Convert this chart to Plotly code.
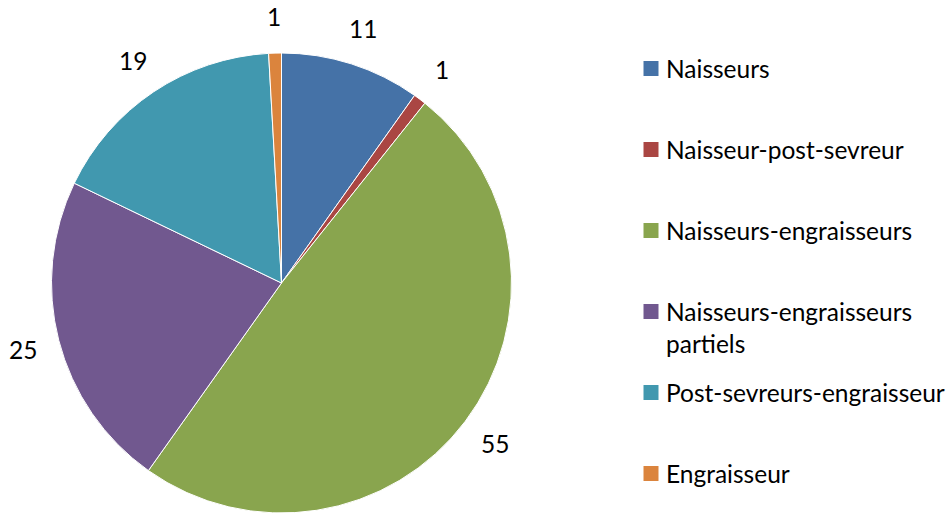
import math
import plotly.graph_objects as go

categories = ["Naisseurs", "Naisseur-post-sevreur", "Naisseurs-engraisseurs",
              "Naisseurs-engraisseurs<br>partiels", "Post-sevreurs-engraisseur", "Engraisseur"]
values = [11, 1, 55, 25, 19, 1]
colors = ["#4572A7", "#AA4643", "#89A54E", "#71588F", "#4198AF", "#DB843D"]

W, H = 949, 513
FONT = "Lato"
FS = 24.5

# pie geometry (layout)
cx, cy, r = 281.5, 283.0, 230.0
label_dist = 267.0

fig = go.Figure()
fig.add_trace(go.Pie(
    labels=categories, values=values, sort=False, direction="clockwise", rotation=0,
    marker=dict(colors=colors, line=dict(color="white", width=1)),
    textinfo="none", hoverinfo="label+value", showlegend=False,
    domain=dict(x=[(cx - r) / W, (cx + r) / W], y=[(H - cy - r) / H, (H - cy + r) / H]),
))

annotations = []
total = sum(values)
cum = 0.0
for v in values:
    mid = (cum + v / 2) / total * 2 * math.pi
    cum += v
    px = cx + label_dist * math.sin(mid)
    py = cy - label_dist * math.cos(mid)
    annotations.append(dict(x=px / W, y=(H - py) / H, xref="paper", yref="paper",
                            text=str(v), showarrow=False, xanchor="center", yanchor="middle",
                            font=dict(family=FONT, size=FS, color="black")))

# legend drawn on a hidden axis, one row per category
n = len(categories)
fig.add_trace(go.Scatter(
    x=[0] * n, y=list(range(n)), mode="markers", xaxis="x2", yaxis="y2",
    marker=dict(symbol="square", size=15, color=colors, line=dict(width=0)),
    hoverinfo="skip", showlegend=False,
))
for i, c in enumerate(categories):
    annotations.append(dict(x=13, y=i, xref="x2", yref="y2", text=c, showarrow=False,
                            xanchor="left", yanchor="top", align="left", yshift=17,
                            font=dict(family=FONT, size=FS, color="black")))

fig.update_layout(
    width=W, height=H, margin=dict(l=0, r=0, t=0, b=0),
    paper_bgcolor="white", plot_bgcolor="white",
    xaxis2=dict(domain=[0, 1], range=[-651, W - 651], visible=False, fixedrange=True),
    yaxis2=dict(domain=[0, 1], range=[(H - 68.5) / 81, -68.5 / 81], visible=False, fixedrange=True),
    annotations=annotations,
)
fig.write_html("out.html", config={"displayModeBar": False},
               post_script="document.body.style.margin='0';")
